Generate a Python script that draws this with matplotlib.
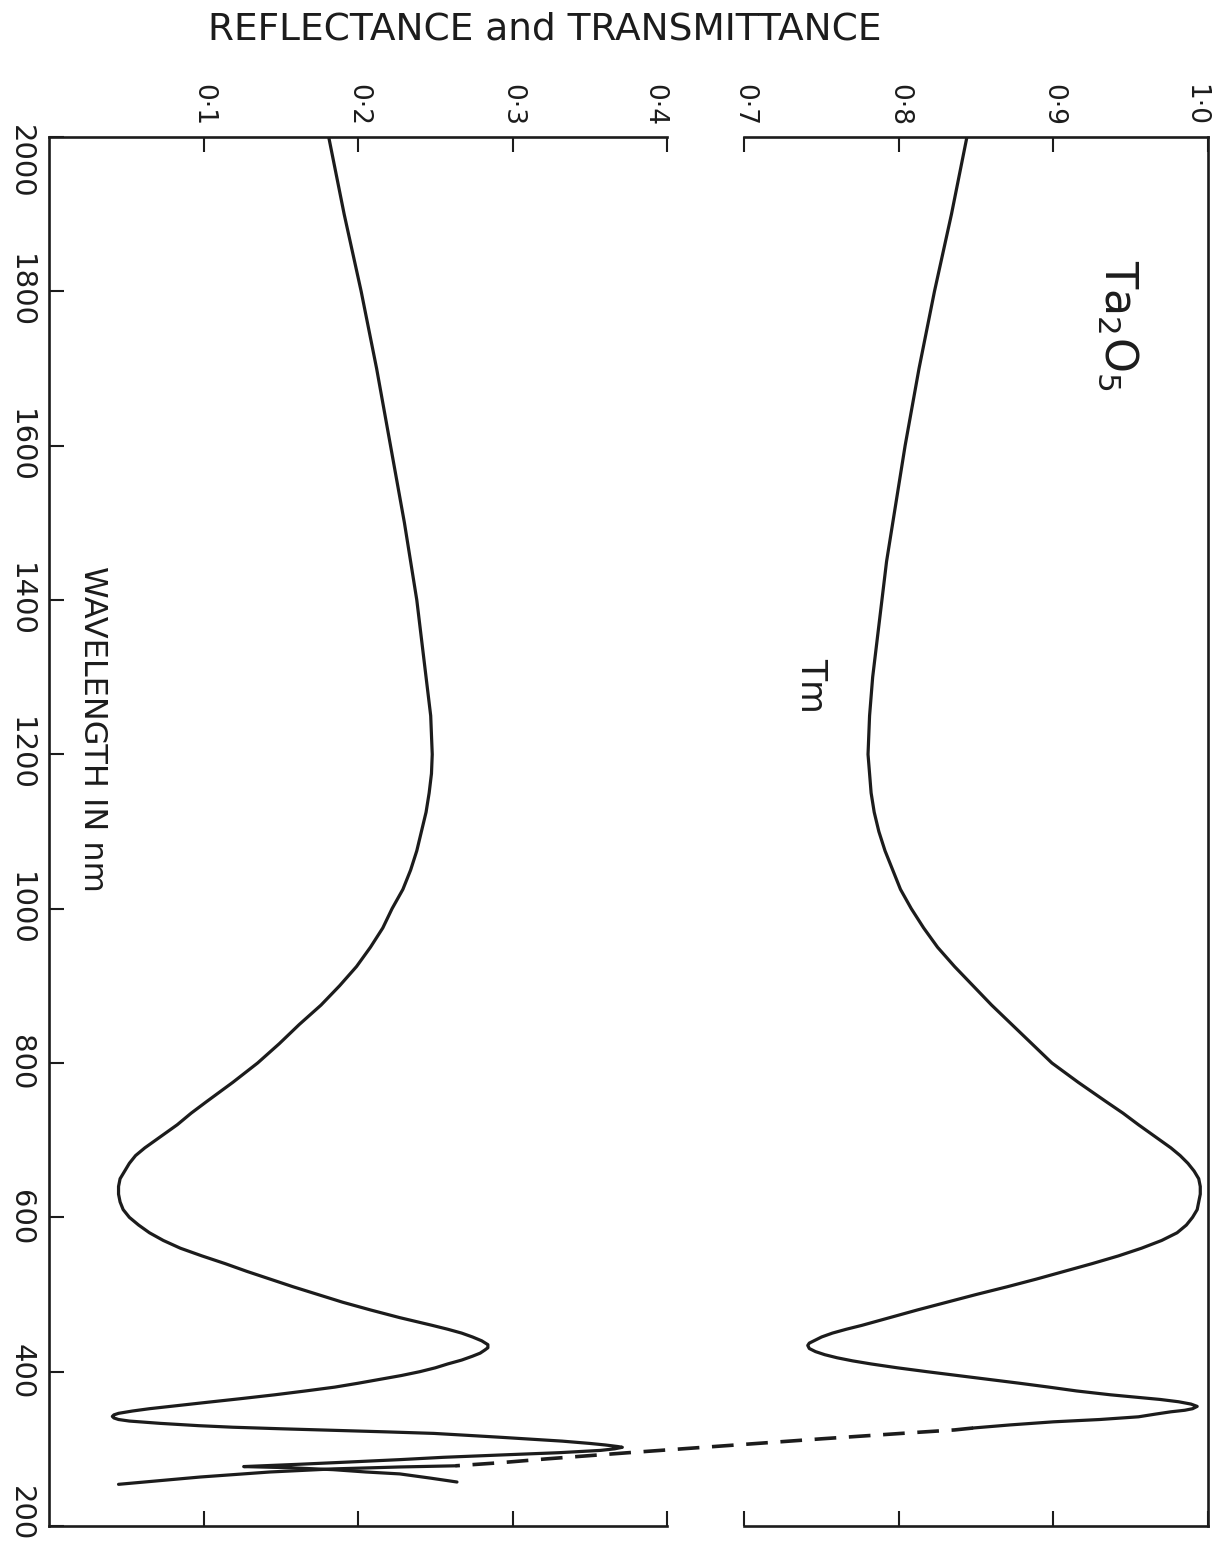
import numpy as np
import matplotlib
import matplotlib.pyplot as plt
from matplotlib import transforms as mtransforms
matplotlib.use('Agg')

plt.rcParams['font.family'] = ['DejaVu Sans']

INK = '#1c1c1c'

# reflectance R (lower scale, 0 - 0.4)
r_wavelength = [2000, 1900, 1800, 1700, 1600, 1500, 1450, 1400, 1350, 1300,
                1250, 1200, 1175, 1150, 1125, 1100, 1075, 1050, 1025, 1000,
                975, 950, 925, 900, 875, 850, 825, 800, 775, 750,
                735, 720, 710, 700, 690, 680, 670, 660, 650, 640,
                630, 620, 610, 600, 590, 580, 570, 560, 550, 540,
                530, 520, 510, 500, 490, 480, 470, 460, 455, 450,
                445, 440, 435, 431, 428, 424, 420, 415, 410, 405,
                400, 395, 390, 385, 380, 375, 370, 365, 360, 356,
                352, 349, 346, 344, 342, 340, 338, 336, 333, 330,
                328, 326, 324, 322, 320, 317, 315, 312, 310, 307,
                305, 303, 302, 300, 298, 295, 292, 289, 286, 283,
                280, 278, 277, 275.5, 273, 270, 267.5, 262, 257]
r_value = [0.181, 0.191, 0.202, 0.212, 0.221, 0.230, 0.234, 0.238, 0.241, 0.244,
           0.247, 0.248, 0.2475, 0.246, 0.244, 0.241, 0.238, 0.234, 0.229, 0.222,
           0.216, 0.208, 0.199, 0.188, 0.176, 0.162, 0.149, 0.135, 0.119, 0.102,
           0.092, 0.083, 0.076, 0.069, 0.062, 0.056, 0.052, 0.049, 0.046, 0.045,
           0.045, 0.046, 0.048, 0.052, 0.058, 0.065, 0.074, 0.085, 0.099, 0.114,
           0.128, 0.143, 0.158, 0.174, 0.190, 0.208, 0.227, 0.248, 0.258, 0.267,
           0.274, 0.280, 0.284, 0.284, 0.282, 0.279, 0.274, 0.267, 0.258, 0.250,
           0.240, 0.228, 0.214, 0.200, 0.185, 0.166, 0.146, 0.124, 0.101, 0.083,
           0.065, 0.054, 0.045, 0.042, 0.041, 0.042, 0.045, 0.052, 0.072, 0.097,
           0.119, 0.150, 0.184, 0.218, 0.249, 0.275, 0.292, 0.316, 0.332, 0.350,
           0.360, 0.368, 0.371, 0.366, 0.357, 0.330, 0.292, 0.255, 0.227, 0.195,
           0.162, 0.138, 0.126, 0.156, 0.184, 0.205, 0.227, 0.247, 0.264]

# transmittance Tm (upper scale, 0.7 - 1.0)
t_wavelength = [2000, 1900, 1800, 1700, 1600, 1500, 1450, 1400, 1350, 1300,
                1250, 1200, 1175, 1150, 1125, 1100, 1075, 1050, 1025, 1000,
                975, 950, 925, 900, 875, 850, 825, 800, 775, 750,
                735, 720, 710, 700, 690, 680, 670, 660, 650, 640,
                630, 620, 610, 600, 590, 580, 570, 560, 550, 540,
                530, 520, 510, 500, 490, 480, 470, 460, 455, 450,
                445, 440, 437, 434, 430, 426, 422, 418, 414, 410,
                405, 400, 395, 390, 385, 380, 375, 370, 367, 364,
                361, 358, 355, 352, 350, 348, 345, 341.5, 338, 335,
                331, 327]
t_value = [0.844, 0.834, 0.823, 0.813, 0.804, 0.796, 0.792, 0.789, 0.786, 0.783,
           0.781, 0.780, 0.781, 0.782, 0.784, 0.787, 0.791, 0.796, 0.801, 0.808,
           0.816, 0.825, 0.836, 0.848, 0.860, 0.873, 0.886, 0.899, 0.916, 0.934,
           0.945, 0.955, 0.962, 0.969, 0.976, 0.982, 0.987, 0.991, 0.994, 0.995,
           0.995, 0.994, 0.993, 0.990, 0.986, 0.980, 0.970, 0.957, 0.942, 0.925,
           0.907, 0.889, 0.870, 0.850, 0.831, 0.812, 0.794, 0.776, 0.766, 0.757,
           0.750, 0.745, 0.742, 0.741, 0.742, 0.746, 0.752, 0.760, 0.770, 0.782,
           0.799, 0.818, 0.838, 0.858, 0.878, 0.897, 0.915, 0.937, 0.953, 0.969,
           0.981, 0.989, 0.993, 0.990, 0.985, 0.976, 0.966, 0.955, 0.930, 0.900,
           0.872, 0.848]

# extrapolated part of Tm into the absorption edge
t_ext_wavelength = [327, 324.5, 321, 313, 295, 287, 282, 278]
t_ext_value = [0.848, 0.836, 0.809, 0.750, 0.375, 0.322, 0.292, 0.263]

# measured transmittance at the absorption edge
t_edge_wavelength = [278, 276.5, 274, 270, 263.5, 254]
t_edge_value = [0.263, 0.227, 0.184, 0.143, 0.098, 0.045]

wl_ticks = [200, 400, 600, 800, 1000, 1200, 1400, 1600, 1800, 2000]
value_ticks = [0.1, 0.2, 0.3, 0.4, 0.7, 0.8, 0.9, 1.0]
value_labels = ['0\u00b71', '0\u00b72', '0\u00b73', '0\u00b74',
                '0\u00b77', '0\u00b78', '0\u00b79', '1\u00b70']

# broken value axis: 0-0.4 and 0.7-1.0 with a short gap between
LOW_TOP = 0.4
HIGH_BOTTOM = 0.7
GAP = 0.05


def to_axis(v):
    v = np.asarray(v, dtype=float)
    return np.where(v <= LOW_TOP, v,
                    np.where(v >= HIGH_BOTTOM, v - HIGH_BOTTOM + LOW_TOP + GAP,
                             LOW_TOP + (v - LOW_TOP) * GAP / (HIGH_BOTTOM - LOW_TOP)))


def from_axis(p):
    p = np.asarray(p, dtype=float)
    return np.where(p <= LOW_TOP, p,
                    np.where(p >= LOW_TOP + GAP, p - LOW_TOP - GAP + HIGH_BOTTOM,
                             LOW_TOP + (p - LOW_TOP) * (HIGH_BOTTOM - LOW_TOP) / GAP))


fig = plt.figure(figsize=(12.18, 15.46), dpi=100)
ax = fig.add_axes([49 / 1218, 20 / 1546, 1159 / 1218, 1389 / 1546])
ax.set_xscale('function', functions=(to_axis, from_axis))

curve_kw = dict(color=INK, lw=2.3, solid_joinstyle='round',
                solid_capstyle='round')
ax.plot(r_value, r_wavelength, **curve_kw)
ax.plot(t_value, t_wavelength, **curve_kw)
ax.plot(t_edge_value, t_edge_wavelength, **curve_kw)
ax.plot(t_ext_value, t_ext_wavelength, color=INK, lw=2.6,
        linestyle=(0, (6, 3.5)))

wl_min, wl_max = min(wl_ticks), max(wl_ticks)

# frame: top and bottom edges are broken across the gap
for side in ['top', 'bottom']:
    ax.spines[side].set_bounds(0, LOW_TOP)
for side in ax.spines:
    ax.spines[side].set_linewidth(1.9)
    ax.spines[side].set_color(INK)
ax.plot([HIGH_BOTTOM, 1.0], [wl_max, wl_max], color=INK, lw=1.9,
        clip_on=False, solid_capstyle='projecting')
ax.plot([HIGH_BOTTOM, 1.0], [wl_min, wl_min], color=INK, lw=1.9,
        clip_on=False, solid_capstyle='projecting')

ax.set_xlim(0, 1.0)
ax.set_ylim(wl_min, wl_max)

ax.set_xticks(value_ticks, labels=value_labels)
ax.tick_params(axis='x', top=True, bottom=True, labeltop=True,
               labelbottom=False, direction='in', length=11, width=1.5,
               pad=8, labelsize=19, labelrotation=270, colors=INK)
ax.set_yticks(wl_ticks, labels=[str(w) for w in wl_ticks])
ax.tick_params(axis='y', left=True, right=False, direction='in',
               length=11, width=1.5, pad=10, labelsize=21,
               labelrotation=270, colors=INK)
for lab in ax.get_yticklabels():
    lab.set_va('center')

# labels at the ends of the scales sit inside the frame corners
xt = ax.xaxis.get_major_ticks()
xt[3].label2.set_ha('right')
xt[-1].label2.set_ha('right')
yt = ax.yaxis.get_major_ticks()
yt[0].label1.set_transform(yt[0].label1.get_transform() +
                           mtransforms.ScaledTranslation(0, 0.12, fig.dpi_scale_trans))
yt[-1].label1.set_transform(yt[-1].label1.get_transform() +
                            mtransforms.ScaledTranslation(0, -0.25, fig.dpi_scale_trans))

ax.text(0.028, 1233, 'WAVELENGTH IN nm', rotation=270, fontsize=23,
        ha='center', va='center', color=INK)
ax.text(0.942, 1756, r'Ta$_2$O$_5$', rotation=270, fontsize=32,
        ha='center', va='center', color=INK)
ax.text(0.743, 1289, 'Tm', rotation=270, fontsize=25,
        ha='center', va='center', color=INK)

fig.text(0.447, 0.981, 'REFLECTANCE and TRANSMITTANCE', fontsize=27,
         ha='center', va='center', color=INK)

fig.savefig('out.png', dpi=100, facecolor='white')
plt.close(fig)
